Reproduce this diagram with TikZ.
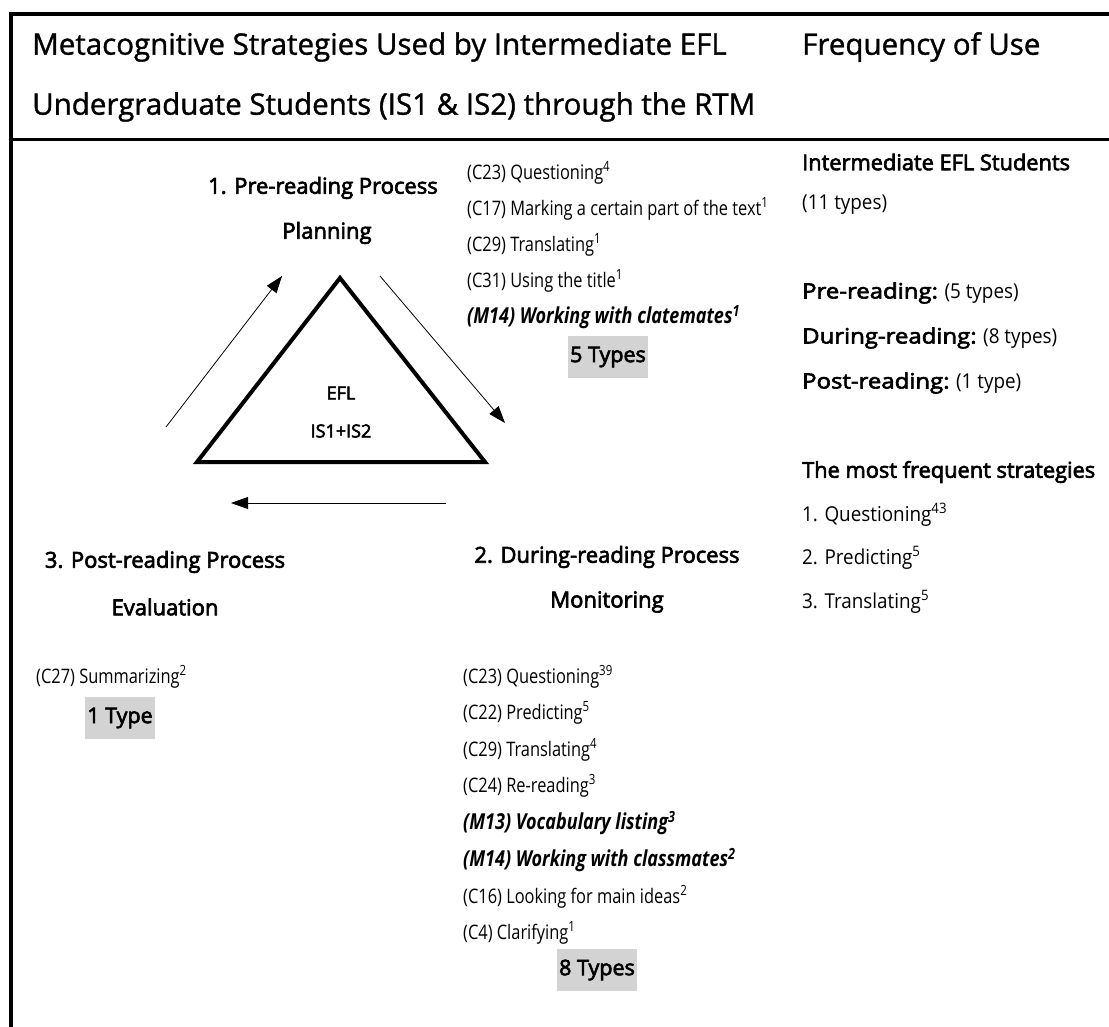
\documentclass[tikz,border=0pt]{standalone}
\usepackage{fontspec}
\usetikzlibrary{arrows.meta}
\setmainfont{Open Sans}
\newfontfamily\lf[FakeStretch=0.82]{Open Sans}
\newfontfamily\rf[FakeStretch=0.92]{Open Sans}
\newfontfamily\hf{Open Sans}
\newfontfamily\tf[FakeBold=1.2]{Open Sans}
\newfontfamily\mf[FakeBold=3]{Open Sans}
\newfontfamily\mfw[FakeBold=3,FakeStretch=1.14]{Open Sans}
\definecolor{boxgray}{RGB}{211,211,211}
\begin{document}
\begin{tikzpicture}[x=1pt,y=-1pt,
  ttl/.style={font=\tf\fontsize{29.5}{32}\selectfont, anchor=west, inner sep=0},
  head/.style={font=\mf\fontsize{22}{24}\selectfont, inner sep=0},
  item/.style={font=\lf\fontsize{20}{22}\selectfont, anchor=west, inner sep=0},
  itemb/.style={font=\lf\fontsize{22}{24}\selectfont\bfseries\itshape, anchor=west, inner sep=0},
  rcol/.style={font=\rf\fontsize{20.5}{23}\selectfont, anchor=west, inner sep=0},
  rhead/.style={font=\mf\fontsize{21.8}{23}\selectfont, anchor=west, inner sep=0},
  rlab/.style={font=\mfw\fontsize{21}{23}\selectfont},
  typebox/.style={fill=boxgray, font=\mf\fontsize{21.5}{22}\selectfont, inner xsep=2pt, minimum height=42pt},
  arr/.style={-{Triangle[length=17pt,width=12pt]}, line width=0.8pt},
  frame/.style={line width=4pt}
]
\useasboundingbox (0,0) rectangle (1109,1027);
% frame
\draw[frame] (1109,14) -- (11,14) -- (11,1027);
\draw[line width=3pt] (11,140) -- (1109,140);
% title
\node[ttl] (t1) at (32,47) {Metacognitive Strategies Used by Intermediate EFL};
\node[ttl] (t2) at (32,107) {Undergraduate Students (IS1 \& IS2) through the RTM};
\node[ttl] (t3) at (802,47) {Frequency of Use};
% triangle
\coordinate (ta) at (340,278);
\coordinate (tl) at (197,462);
\coordinate (tr) at (485,462);
\draw[line width=4pt, line join=miter] (ta) -- (tl) -- (tr) -- cycle;
\node[font=\mf\fontsize{18}{20}\selectfont] (efl) at (341,393) {EFL};
\node[font=\mf\fontsize{18}{20}\selectfont] (is) at (341,431) {IS1+IS2};
% arrows
\coordinate (a1s) at (166,427); \coordinate (a1e) at (282,276);
\coordinate (a2s) at (380,276); \coordinate (a2e) at (505,423);
\coordinate (a3s) at (446,503); \coordinate (a3e) at (231,503);
\draw[arr] (a1s) -- (a1e);
\draw[arr] (a2s) -- (a2e);
\draw[arr] (a3s) -- (a3e);
% pre-reading
\node[head] (pre) at (323,188) {1. Pre-reading Process};
\node[head] (plan) at (327,233) {Planning};
\node[item] (p1) at (467,173) {(C23) Questioning\textsuperscript{4}};
\node[item] (p2) at (467,209) {(C17) Marking a certain part of the text\textsuperscript{1}};
\node[item] (p3) at (467,245) {(C29) Translating\textsuperscript{1}};
\node[item] (p4) at (467,281) {(C31) Using the title\textsuperscript{1}};
\node[itemb] (p5) at (467,317) {(M14) Working with clatemates\textsuperscript{1}};
\node[typebox] (pb) at (608,357) {5 Types};
% post-reading
\node[head] (post) at (165,562) {3. Post-reading Process};
\node[head] (eval) at (165,607) {Evaluation};
\node[item] (q1) at (36,677) {(C27) Summarizing\textsuperscript{2}};
\node[typebox] (qb) at (120,718) {1 Type};
% during-reading
\node[head] (dur) at (607,557) {2. During-reading Process};
\node[head] (mon) at (607,602) {Monitoring};
\node[item] (d1) at (463,677) {(C23) Questioning\textsuperscript{39}};
\node[item] (d2) at (463,713) {(C22) Predicting\textsuperscript{5}};
\node[item] (d3) at (463,750) {(C29) Translating\textsuperscript{4}};
\node[item] (d4) at (463,786) {(C24) Re-reading\textsuperscript{3}};
\node[itemb] (d5) at (463,823) {(M13) Vocabulary listing\textsuperscript{3}};
\node[itemb] (d6) at (463,860) {(M14) Working with classmates\textsuperscript{2}};
\node[item] (d7) at (463,897) {(C16) Looking for main ideas\textsuperscript{2}};
\node[item] (d8) at (463,933) {(C4) Clarifying\textsuperscript{1}};
\node[typebox] (db) at (597,970) {8 Types};
% right column
\node[rhead] (r1) at (802,162) {Intermediate EFL Students};
\node[rcol] (r2) at (802,205) {(11 types)};
\node[rcol] (r3) at (802,293) {{\mfw\fontsize{21}{23}\selectfont Pre-reading:} (5 types)};
\node[rcol] (r4) at (802,338) {{\mfw\fontsize{21}{23}\selectfont During-reading:} (8 types)};
\node[rcol] (r5) at (802,383) {{\mfw\fontsize{21}{23}\selectfont Post-reading:} (1 type)};
\node[rhead] (r6) at (802,472) {The most frequent strategies};
\node[rcol] (r7) at (802,515) {1. Questioning\textsuperscript{43}};
\node[rcol] (r8) at (802,558) {2. Predicting\textsuperscript{5}};
\node[rcol] (r9) at (802,602) {3. Translating\textsuperscript{5}};
\end{tikzpicture}
\end{document}
